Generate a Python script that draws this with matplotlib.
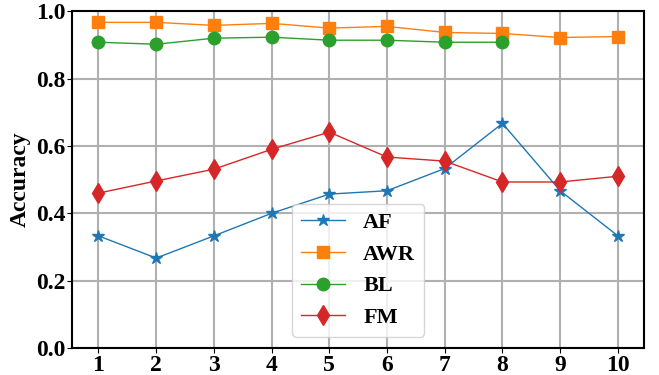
import matplotlib.pyplot as plt

plt.rcParams['font.family'] = 'Liberation Serif'
plt.rcParams['font.weight'] = 'bold'

epochs = [1, 2, 3, 4, 5, 6, 7, 8, 9, 10]
af = [0.333, 0.267, 0.333, 0.400, 0.457, 0.467, 0.533, 0.667, 0.467, 0.333]
awr = [0.967, 0.967, 0.958, 0.964, 0.950, 0.955, 0.937, 0.934, 0.922, 0.925]
bl = [0.908, 0.902, 0.920, 0.923, 0.914, 0.914, 0.908, 0.908]
fm = [0.460, 0.496, 0.531, 0.590, 0.641, 0.567, 0.555, 0.493, 0.493, 0.510]

fig, ax = plt.subplots(figsize=(6.59, 3.75), dpi=100)

ax.plot(epochs, af, marker='*', markersize=9, lw=1, label='AF')
ax.plot(epochs, awr, marker='s', markersize=9, lw=1, label='AWR')
ax.plot(epochs[:len(bl)], bl, marker='o', markersize=9, lw=1, label='BL')
ax.plot(epochs, fm, marker='d', markersize=10, lw=1, label='FM')

ax.set_ylim(0, 1.0)
ax.set_xticks(epochs)
ax.set_ylabel('Accuracy', fontsize=17, fontweight='bold')
ax.tick_params(labelsize=17, pad=1.5)
ax.grid(True, color='#b0b0b0', lw=1.5)
for s in ax.spines.values():
    s.set_linewidth(1.5)

ax.legend(loc='lower center', prop={'size': 16, 'weight': 'bold'})

plt.subplots_adjust(left=0.11, right=0.977, bottom=0.072, top=0.97)
plt.savefig('out.png')
